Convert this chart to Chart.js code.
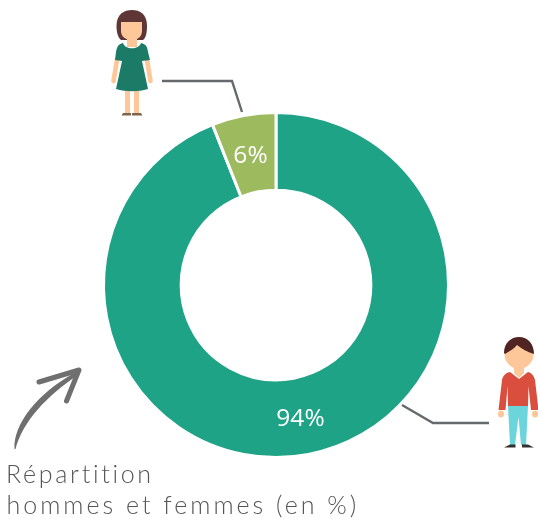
<!DOCTYPE html>
<html><head><meta charset="utf-8">
<style>html,body{margin:0;padding:0;background:#fff}canvas{display:block}</style>
<script src="https://cdn.jsdelivr.net/npm/chart.js@4"></script></head>
<body><canvas id="c" width="538" height="523"></canvas>
<script>
const categories = ["Hommes", "Femmes"];
const shares = [94, 6];
const sliceColors = ["#1fa386", "#9dba5e"];
const captionLines = ["Répartition", "hommes et femmes (en %)"];

function poly(ctx, color, pts, close = true) {
  ctx.fillStyle = color; ctx.beginPath();
  pts.forEach((p, i) => i ? ctx.lineTo(p[0], p[1]) : ctx.moveTo(p[0], p[1]));
  if (close) ctx.closePath(); ctx.fill();
}
function ell(ctx, color, x, y, rx, ry) {
  ctx.fillStyle = color; ctx.beginPath(); ctx.ellipse(x, y, rx, ry, 0, 0, Math.PI * 2); ctx.fill();
}
function woman(ctx) {
  const skin = "#fdc79a", dress = "#1b7b67", hair = "#5f3636";
  ctx.fillStyle = hair; ctx.beginPath();
  ctx.moveTo(116.5, 26); ctx.bezierCurveTo(116.5, 14, 124, 10, 132, 10);
  ctx.bezierCurveTo(140, 10, 147, 14, 147, 26);
  ctx.bezierCurveTo(147, 32, 146, 38, 143, 40); ctx.lineTo(121, 40);
  ctx.bezierCurveTo(118, 38, 116.5, 32, 116.5, 26); ctx.fill();
  ctx.fillStyle = skin; ctx.beginPath();
  ctx.moveTo(121, 22); ctx.lineTo(142, 22); ctx.lineTo(142, 31);
  ctx.bezierCurveTo(142, 37, 137, 40, 132, 40); ctx.bezierCurveTo(126, 40, 121, 37, 121, 31); ctx.fill();
  poly(ctx, skin, [[127, 38], [137, 38], [137, 47], [127, 47]]);
  ctx.strokeStyle = skin; ctx.lineCap = "round"; ctx.lineWidth = 4.6;
  ctx.beginPath(); ctx.moveTo(117, 60); ctx.lineTo(113.5, 81); ctx.stroke();
  ctx.beginPath(); ctx.moveTo(147, 60); ctx.lineTo(150.5, 81); ctx.stroke();
  ctx.lineCap = "butt";
  poly(ctx, skin, [[125, 88], [130, 88], [130, 113], [125, 113]]);
  poly(ctx, skin, [[134, 88], [139, 88], [139, 113], [134, 113]]);
  ctx.fillStyle = dress; ctx.beginPath();
  ctx.moveTo(123, 43); ctx.bezierCurveTo(125, 50, 139, 50, 141, 43);
  ctx.bezierCurveTo(146, 44, 147.5, 47, 148, 52); ctx.lineTo(150, 60); ctx.lineTo(142, 61);
  ctx.lineTo(148, 89); ctx.bezierCurveTo(138, 92, 126, 92, 116, 89);
  ctx.lineTo(122, 61); ctx.lineTo(115, 60); ctx.lineTo(116, 52);
  ctx.bezierCurveTo(117, 47, 118, 44, 123, 43); ctx.fill();
  poly(ctx, "#7e6650", [[121.5, 115.5], [123, 113], [131, 113], [131, 115.5]]);
  poly(ctx, "#7e6650", [[132, 115.5], [132, 113], [141, 113], [142.5, 115.5]]);
}
function man(ctx) {
  const skin = "#fdc79a";
  ell(ctx, skin, 501, 414, 3, 3.5); ell(ctx, skin, 535, 414, 3, 3.5);
  poly(ctx, skin, [[514, 362], [524, 362], [524, 373], [519, 378], [514, 373]]);
  ell(ctx, skin, 519, 354, 14.5, 15);
  ctx.fillStyle = "#4f2422"; ctx.beginPath();
  ctx.moveTo(504, 353); ctx.bezierCurveTo(504, 343, 511, 337, 519, 337);
  ctx.bezierCurveTo(528, 337, 534, 344, 534, 354);
  ctx.bezierCurveTo(527, 352, 521, 348, 517, 345);
  ctx.bezierCurveTo(514, 349, 509, 351, 505, 354); ctx.fill();
  ctx.fillStyle = "#d94e3d"; ctx.beginPath();
  ctx.moveTo(510, 372); ctx.lineTo(519, 379); ctx.lineTo(528, 372);
  ctx.bezierCurveTo(532, 373, 534, 376, 535, 380); ctx.lineTo(538.5, 410); ctx.lineTo(531, 410);
  ctx.lineTo(528.5, 386); ctx.lineTo(528, 406); ctx.lineTo(508, 406); ctx.lineTo(507.5, 386);
  ctx.lineTo(505.5, 410); ctx.lineTo(498.5, 410); ctx.lineTo(502, 380);
  ctx.bezierCurveTo(503, 376, 505, 373, 510, 372); ctx.fill();
  poly(ctx, "#6cd5dc", [[508, 406], [528, 406], [526, 445], [521, 445], [518.5, 417], [515, 445], [510, 445]]);
  poly(ctx, "#33302e", [[504, 447.5], [510, 444.5], [515.5, 444.5], [515.5, 447.5]]);
  poly(ctx, "#33302e", [[522, 447.5], [522, 444.5], [528, 444.5], [534, 447.5]]);
}
function arrow(ctx) {
  ctx.fillStyle = "#6f6f6f"; ctx.beginPath();
  ctx.moveTo(14.5, 449);
  ctx.bezierCurveTo(13, 424, 38, 393, 75, 372.5);
  ctx.lineTo(77, 375.5);
  ctx.bezierCurveTo(47, 396, 23, 421, 15.5, 449);
  ctx.closePath(); ctx.fill();
  ctx.strokeStyle = "#6f6f6f"; ctx.lineWidth = 5; ctx.lineCap = "round"; ctx.lineJoin = "round";
  ctx.beginPath(); ctx.moveTo(39, 382); ctx.lineTo(79, 370); ctx.lineTo(66.5, 401); ctx.stroke();
  ctx.lineCap = "butt"; ctx.lineJoin = "miter";
}
function leader(ctx, pts) {
  ctx.strokeStyle = "#666a6c"; ctx.lineWidth = 2.4; ctx.beginPath();
  pts.forEach((p, i) => i ? ctx.lineTo(p[0], p[1]) : ctx.moveTo(p[0], p[1])); ctx.stroke();
}
const decorations = {
  id: "decorations",
  afterDraw(chart) {
    const ctx = chart.ctx; ctx.save();
    ctx.fillStyle = "#fff"; ctx.font = '400 24.5px "Open Sans"'; ctx.textAlign = "center"; ctx.textBaseline = "middle";
    const off = [[300.5, 419], [250.5, 156.5]];
    shares.forEach((v, i) => ctx.fillText(v + "%", off[i][0], off[i][1]));
    leader(ctx, [[162, 81], [232, 81], [242, 112]]);
    leader(ctx, [[402, 405], [433, 423], [489, 423]]);
    woman(ctx); man(ctx); arrow(ctx);
    ctx.fillStyle = "#555"; ctx.font = '300 25px Lato'; ctx.textAlign = "left"; ctx.textBaseline = "alphabetic";
    ctx.letterSpacing = "2.7px";
    ctx.fillText(captionLines[0], 6, 483);
    ctx.letterSpacing = "3px";
    ctx.fillText(captionLines[1], 6.5, 514);
    ctx.restore();
  }
};
new Chart(document.getElementById("c"), {
  type: "doughnut",
  data: { labels: categories, datasets: [{ data: shares, backgroundColor: sliceColors, borderColor: "#fff", borderWidth: 3, hoverOffset: 0 }] },
  options: {
    responsive: false, animation: false, cutout: "55%",
    layout: { padding: { left: 102, right: 88, top: 111, bottom: 64 } },
    plugins: { legend: { display: false }, tooltip: { enabled: false } }
  },
  plugins: [decorations]
});
</script></body></html>
